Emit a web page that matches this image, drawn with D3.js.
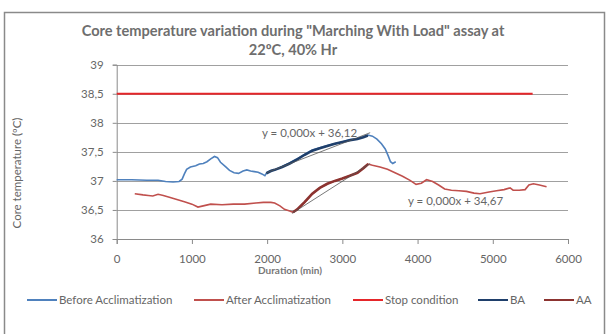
<!DOCTYPE html>
<html><head><meta charset="utf-8">
<script src="https://cdn.jsdelivr.net/npm/d3@7"></script>
<style>body{margin:0;background:#fff;} svg{display:block;font-family:Lato,"Open Sans",sans-serif;}</style>
</head><body>
<svg id="c" width="609" height="334"></svg>
<script>
const titleLines = ['Core temperature variation during "Marching With Load" assay at', '22ºC, 40% Hr'];
const xTicks = [0,1000,2000,3000,4000,5000,6000];
const yTicks = [36,36.5,37,37.5,38,38.5,39];
const yTickLabels = ["36","36,5","37","37,5","38","38,5","39"];

const beforeX = [0,200,400,550,650,750,830,870,900,930,980,1050,1100,1150,1200,1250,1300,1340,1380,1450,1500,1560,1620,1680,1730,1780,1830,1880,1930,1970,2000,2050,2100,2200,2300,2400,2500,2600,2700,2800,2900,3000,3100,3200,3280,3340,3400,3460,3520,3570,3610,3640,3670,3710];
const beforeY = [37.02,37.02,37.01,37.01,36.99,36.98,36.99,37.03,37.12,37.20,37.24,37.26,37.29,37.30,37.33,37.38,37.42,37.40,37.32,37.24,37.18,37.14,37.13,37.17,37.19,37.17,37.16,37.15,37.12,37.09,37.15,37.18,37.19,37.25,37.31,37.38,37.46,37.53,37.57,37.61,37.64,37.67,37.71,37.73,37.76,37.79,37.77,37.72,37.64,37.55,37.43,37.33,37.30,37.33];

const afterX = [240,350,420,480,550,620,700,800,900,1000,1080,1150,1250,1400,1550,1700,1850,1950,2050,2100,2170,2230,2300,2345,2400,2500,2600,2700,2800,2900,3000,3100,3200,3280,3340,3400,3500,3600,3700,3800,3900,3980,4050,4120,4200,4280,4360,4450,4550,4650,4750,4830,4950,5050,5150,5230,5270,5350,5430,5480,5540,5620,5715];
const afterY = [36.78,36.76,36.75,36.74,36.77,36.75,36.72,36.68,36.64,36.60,36.55,36.57,36.60,36.59,36.60,36.60,36.62,36.63,36.63,36.62,36.57,36.51,36.48,36.46,36.50,36.63,36.77,36.88,36.95,37.00,37.04,37.09,37.14,37.22,37.29,37.27,37.24,37.20,37.14,37.08,37.01,36.94,36.96,37.02,36.99,36.93,36.86,36.84,36.83,36.82,36.79,36.78,36.81,36.83,36.85,36.88,36.84,36.84,36.85,36.93,36.95,36.93,36.90];

const stopX = [0,5530];
const stopY = [38.5,38.5];

const baX = [1990,2050,2100,2200,2300,2400,2500,2600,2700,2800,2900,3000,3100,3200,3280,3340];
const baY = [37.13,37.17,37.19,37.24,37.30,37.37,37.45,37.52,37.56,37.60,37.64,37.67,37.70,37.72,37.75,37.78];

const aaX = [2345,2400,2500,2600,2700,2800,2900,3000,3100,3200,3280,3345];
const aaY = [36.46,36.51,36.64,36.78,36.88,36.95,37.00,37.04,37.09,37.14,37.22,37.29];

const trendBAX = [1990,3370], trendBAY = [37.14,37.83];
const trendAAX = [2330,3370], trendAAY = [36.44,37.30];
const trendLabels = ["y = 0,000x + 36,12","y = 0,000x + 34,67"];

const legendNames = ["Before Acclimatization","After Acclimatization","Stop condition","BA","AA"];
const colors = ["#4F81BD","#C0504D","#E5262A","#1F3F6B","#8C3330"];

const svg = d3.select("#c");
const x = d3.scaleLinear().domain([0,6000]).range([116.7,568]);
const y = d3.scaleLinear().domain([36,39]).range([239,64.7]);
const grey = "#666666";

svg.append("rect").attr("x",4.5).attr("y",12.5).attr("width",600).attr("height",330)
  .attr("fill","none").attr("stroke","#8a8a8a").attr("stroke-width",1.5);

// title
svg.append("text").attr("x",293).attr("y",36).attr("text-anchor","middle")
  .attr("font-size",14.6).attr("font-weight","bold").attr("fill","#6e6e6e").text(titleLines[0]);
svg.append("text").attr("x",293).attr("y",55).attr("text-anchor","middle")
  .attr("font-size",14.6).attr("font-weight","bold").attr("fill","#6e6e6e").text(titleLines[1]);

// gridlines
svg.append("g").selectAll("line").data(yTicks.slice(1)).join("line")
  .attr("x1",x(0)).attr("x2",x(6000)).attr("y1",d=>Math.round(y(d))+0.5).attr("y2",d=>Math.round(y(d))+0.5)
  .attr("stroke","#a0a0a0").attr("stroke-width",1);

// axes
const yAxis = d3.axisLeft(y).tickValues(yTicks).tickFormat((d,i)=>yTickLabels[i]).tickSize(4).tickPadding(9);
const gy = svg.append("g").attr("transform",`translate(${x(0)},0)`).call(yAxis);
const xAxis = d3.axisBottom(x).tickValues(xTicks).tickFormat(d=>String(d)).tickSize(5).tickPadding(11);
const gx = svg.append("g").attr("transform",`translate(0,${y(36)})`).call(xAxis);
[gx,gy].forEach(g=>{
  g.selectAll("path,line").attr("stroke","#8a8a8a");
  g.selectAll("text").attr("fill",grey).attr("font-size",11.5).attr("font-family","Lato");
});

// axis titles
svg.append("text").attr("transform","translate(21,173) rotate(-90)").attr("text-anchor","middle")
  .attr("font-size",11.5).attr("fill",grey).text("Core temperature (ºC)");
svg.append("text").attr("x",290).attr("y",274).attr("text-anchor","middle")
  .attr("font-size",10).attr("font-weight","bold").attr("fill","#777").text("Duration (min)");

const line = d3.line().x(d=>x(d[0])).y(d=>y(d[1]));
const zip = (a,b)=>a.map((v,i)=>[v,b[i]]);

svg.append("path").datum(zip(stopX,stopY)).attr("d",line).attr("fill","none").attr("stroke",colors[2]).attr("stroke-width",2);
svg.append("path").datum(zip(beforeX,beforeY)).attr("d",line).attr("fill","none").attr("stroke",colors[0]).attr("stroke-width",1.6);
svg.append("path").datum(zip(afterX,afterY)).attr("d",line).attr("fill","none").attr("stroke",colors[1]).attr("stroke-width",1.6);
svg.append("path").datum(zip(baX,baY)).attr("d",line).attr("fill","none").attr("stroke",colors[3]).attr("stroke-width",2.6);
svg.append("path").datum(zip(aaX,aaY)).attr("d",line).attr("fill","none").attr("stroke",colors[4]).attr("stroke-width",2.6);
svg.append("path").datum(zip(trendBAX,trendBAY)).attr("d",line).attr("fill","none").attr("stroke","#555").attr("stroke-width",0.8);
svg.append("path").datum(zip(trendAAX,trendAAY)).attr("d",line).attr("fill","none").attr("stroke","#555").attr("stroke-width",0.8);

svg.append("text").attr("x",262).attr("y",137).attr("font-size",11.5).attr("fill",grey).text(trendLabels[0]);
svg.append("text").attr("x",408).attr("y",205).attr("font-size",11.5).attr("fill",grey).text(trendLabels[1]);

// legend
const legX = [27,194,353,478,544];
const lg = svg.append("g").selectAll("g").data(legendNames).join("g").attr("transform",(d,i)=>`translate(${legX[i]},300)`);
lg.append("line").attr("x1",0).attr("x2",30).attr("stroke",(d,i)=>colors[i]).attr("stroke-width",2);
lg.append("text").attr("x",32).attr("y",4).attr("font-size",11.5).attr("fill",grey).text(d=>d);
</script>
</body></html>
